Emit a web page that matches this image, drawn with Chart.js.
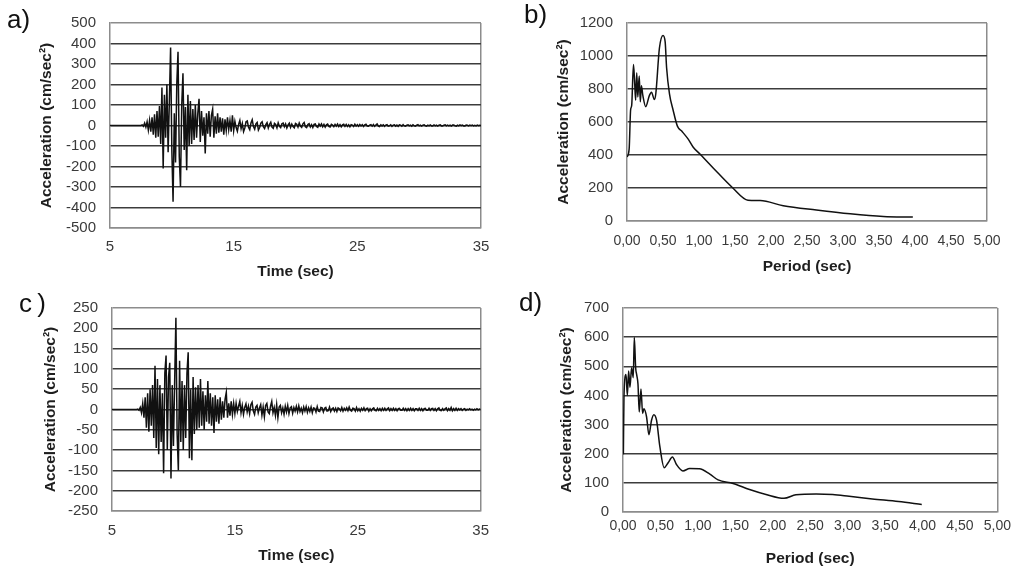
<!DOCTYPE html>
<html>
<head>
<meta charset="utf-8">
<script src="https://cdn.jsdelivr.net/npm/chart.js@4.4.0/dist/chart.umd.min.js"></script>
<style>
    body { margin: 0; background: #fff; }
    #wrap { position: relative; width: 1017px; height: 569px; overflow: hidden; }
    canvas { position: absolute; }
    .tag { position: absolute; font-family: "Liberation Sans", Arial, sans-serif; font-size: 26px; line-height: 26px; color: #111; }
</style>
</head>
<body>
<div id="wrap">
    <canvas id="chartA" width="500" height="285" style="left:0;top:0"></canvas>
    <canvas id="chartB" width="517" height="285" style="left:500px;top:0"></canvas>
    <canvas id="chartC" width="500" height="284" style="left:0;top:285px"></canvas>
    <canvas id="chartD" width="517" height="284" style="left:500px;top:285px"></canvas>
    <div class="tag" style="left:7px;top:6px">a)</div>
    <div class="tag" style="left:524px;top:1px">b)</div>
    <div class="tag" style="left:19px;top:290px">c&#8201;)</div>
    <div class="tag" style="left:519px;top:289px">d)</div>
</div>
<script>
// record a) - strong motion part, sampled every 0.1 s from 7.5 s
const accelAStrong = [
    0, 3, -4, 12, -8, 18, -22, 25, -30, 40,
    -45, 55, -60, 70, -55, 95, -90, 185, -210, 150,
    -60, 200, -130, 120, 380, -120, -372, 60, -180, 200,
    360, -150, -300, 100, 255, -120, 90, -218, 150, -100,
    120, -90, 80, -70, 100, -60, 60, 130, -80, 70,
    -50, 40, -137, 60, -40, 70, -55, 50, 80, -60,
    45, -40, 60, -35, 40, -30, 35, -45, 30, -25,
    40, -20, 25, -30, 50, -25
];
// record a) - coda, every 0.1 s from 15.1 s
const accelATail = [
    20, -10, -28, 5, 25, -15, 10, -30, -12, 18,
    22, -8, -20, 12, 28, -5, -18, 8, 15, -22,
    -10, 12, 18, -6, -15, 4, 14, -12, 6, 16,
    -8, -14, 10, 5, -12, 13, -4, -10, 9, 12,
    -6, 8, -12, 3, 11, -9, 7, -5, -11, 10,
    6, -8, 12, -3, -9, 8, 15, -6, -10, 5,
    9, -7, 4, -10, 6, 8, -5, -9, 7, -3,
    8, -6, 5, -8, 3, 7, -4, -7, 6, 2,
    -6, 5, -3, 7, -5, 4, -6, 3, 6, -4,
    5, -5, 3, -6, 4, 2, -5, 6, -3, 4,
    -4, 5, -2, 4, -5, 3, 6, -3, -4, 2,
    4, -3, 5, -4, 2, 8, -3, -5, 3, -2,
    3, -4, 2, 4, -3, -2, 3, -4, 2, 3,
    -3, 2, -4, 3, 2, -3, 4, -2, -3, 2,
    3, -2, 2, -3, 3, -2, -3, 2, 4, -2,
    2, -3, 2, 3, -2, -3, 2, -2, 3, -2,
    -2, 3, -2, 2, -3, 2, 3, -2, -2, 2,
    3, -2, 2, -2, 2, -3, 2, 2, -2, -3,
    2, -2, 3, -1, 2, -2, -2, 2, 1, -2,
    2, -1, 2, -2, 1, -2, 2, -1, 1, 0
];

// record c) - strong motion part, every 0.1 s from 7.0 s
const accelCStrong = [
    0, 1, -2, 5, -8, 15, -20, 30, -45, 40,
    -55, 50, -40, 60, -70, 108, -95, 75, -110, 60,
    -80, 40, -157, 90, 133, -100, 80, 115, -170, 60,
    -90, 70, 226, -60, -150, 120, -80, 70, -100, 60,
    -70, 90, 141, -120, 50, -125, 80, -60, 55, -50,
    60, -45, 75, -40, 45, -50, 35, -30, 70, -35,
    40, -40, 30, -58, 35, -30, 25, -35, 30, -25,
    20, -20, 25, 42, -20, 15, -15, 20, -12, 15,
    -10
];
// record c) - coda, every 0.1 s from 15.1 s
const accelCTail = [
    15, -5, 8, 20, -8, 10, -12, 5, 14, -6,
    8, -10, 12, 18, -4, -12, 6, 10, -8, 4,
    12, -14, 6, -18, 10, 15, -6, -10, 8, 20,
    -8, 5, -15, 12, -20, 6, 10, -8, 4, -12,
    8, -6, 10, -10, 4, 7, -9, 5, -4, 8,
    -6, 9, -5, 3, -8, 6, -4, 7, -7, 4,
    -5, 6, -8, 4, 3, -6, 7, -4, -5, 5,
    4, -6, 3, 5, -4, -3, 6, -5, 2, 4,
    -4, 3, -5, 4, 2, -3, 5, -4, 3, -2,
    4, -3, 6, -2, -4, 3, 2, -4, 5, -3,
    2, -4, 3, -2, 4, -3, 2, 3, -4, 2,
    -3, 2, 4, -2, -3, 3, -2, 2, -3, 3,
    -2, 3, -2, 2, 4, -3, 2, -2, 3, -2,
    2, -3, 2, 3, -2, -2, 3, -2, 2, -3,
    2, -2, 3, -2, 2, -3, 2, 2, -2, 3,
    -2, 2, -3, 2, 3, -2, -2, 3, -2, 2,
    3, -2, 2, -3, 2, 4, -2, -3, 2, -2,
    2, 4, -3, 2, -2, 5, -3, 2, -2, 3,
    -2, 2, -1, 2, -2, 1, 2, -2, 1, -1,
    2, -1, 1, -2, 1, -1, 2, -1, 1, 0
];

// response spectra
const periodB = [0.00, 0.03, 0.05, 0.065, 0.09, 0.105, 0.12, 0.135, 0.15, 0.17, 0.185, 0.20, 0.22, 0.26, 0.31, 0.34, 0.38, 0.40, 0.45, 0.50, 0.53, 0.55, 0.59, 0.64, 0.70, 0.76, 0.85, 0.92, 1.01, 1.20, 1.47, 1.68, 1.85, 2.17, 2.63, 3.10, 3.56, 3.97];
const spectB = [388, 437, 673, 700, 948, 850, 732, 899, 752, 879, 722, 820, 761, 693, 760, 781, 736, 771, 1047, 1125, 1086, 929, 771, 673, 575, 545, 496, 447, 407, 320, 200, 126, 124, 93, 67, 44, 28, 24];

const periodD = [0.005, 0.013, 0.04, 0.058, 0.075, 0.093, 0.115, 0.137, 0.151, 0.169, 0.182, 0.20, 0.217, 0.24, 0.262, 0.279, 0.315, 0.346, 0.381, 0.412, 0.448, 0.492, 0.55, 0.603, 0.66, 0.714, 0.80, 0.89, 1.02, 1.16, 1.27, 1.47, 1.69, 1.91, 2.15, 2.31, 2.58, 2.80, 3.02, 3.33, 3.68, 3.99];
const spectD = [197, 394, 472, 400, 484, 428, 495, 461, 599, 495, 472, 439, 343, 422, 338, 354, 326, 265, 315, 334, 315, 225, 152, 169, 189, 163, 141, 149, 148, 130, 110, 98, 77, 60, 47, 59, 62, 60, 54, 45, 36, 26];

const FONT = '"Liberation Sans", Arial, sans-serif';
const Y_TITLE = 'Acceleration (cm/sec²)';

function sampled(values, t0, dt) {
    return values.map((v, i) => ({x: +(t0 + i * dt).toFixed(2), y: v}));
}

function pairs(xs, ys) {
    return xs.map((x, i) => ({x, y: ys[i]}));
}

const commaFmt = v => v.toFixed(2).replace('.', ',');
const plainFmt = v => String(v);

function makePanel(id, o) {
    const edge = '#8c8c8c';
    return new Chart(document.getElementById(id), {
        type: 'line',
        data: {
            datasets: [{
                data: o.points,
                borderColor: '#111',
                borderWidth: o.lineWidth,
                pointRadius: 0,
                fill: false,
                tension: o.smooth ? 0.4 : 0,
                cubicInterpolationMode: o.smooth ? 'monotone' : 'default'
            }]
        },
        options: {
            responsive: false,
            animation: false,
            events: [],
            layout: {padding: {top: o.top, right: o.right, bottom: 0, left: 0}},
            plugins: {legend: {display: false}, tooltip: {enabled: false}},
            scales: {
                x: {
                    type: 'linear',
                    min: o.xMin, max: o.xMax,
                    afterFit: s => { s.height = o.xHeight; },
                    ticks: {
                        stepSize: o.xStep,
                        autoSkip: false, maxRotation: 0,
                        padding: o.xTickPad,
                        color: '#3a3a3a',
                        font: {family: FONT, size: o.xFont},
                        callback: o.xFmt
                    },
                    grid: {
                        drawTicks: false,
                        lineWidth: 1.5,
                        color: c => (c.tick && c.tick.value === o.xMax) ? edge : 'rgba(0,0,0,0)'
                    },
                    border: {color: edge, width: 1.5},
                    title: {
                        display: true, text: o.xTitle, color: '#1e1e1e',
                        font: {family: FONT, size: 15.5, weight: 'bold'},
                        padding: {top: 0, bottom: o.xTitlePad}
                    }
                },
                y: {
                    min: o.yMin, max: o.yMax,
                    afterFit: s => { s.width = o.yWidth; },
                    ticks: {
                        stepSize: o.yStep,
                        autoSkip: false,
                        padding: 14,
                        color: '#3a3a3a',
                        font: {family: FONT, size: 15},
                        callback: plainFmt
                    },
                    grid: {
                        drawTicks: false,
                        lineWidth: 1.5,
                        color: c => (c.tick && (c.tick.value === o.yMax || c.tick.value === o.yMin)) ? edge : '#3c3c3c'
                    },
                    border: {color: edge, width: 1.5},
                    title: {
                        display: true, text: Y_TITLE, color: '#1e1e1e',
                        font: {family: FONT, size: 15.5, weight: 'bold'},
                        padding: {top: o.yTitlePad, bottom: 0}
                    }
                }
            }
        }
    });
}

// a) acceleration time history
makePanel('chartA', {
    points: [{x: 5, y: 0}, ...sampled(accelAStrong, 7.5, 0.1), ...sampled(accelATail, 15.1, 0.1)],
    lineWidth: 1.5, smooth: false,
    top: 22, right: 19, yWidth: 110, xHeight: 57,
    xMin: 5, xMax: 35, xStep: 10, xFmt: plainFmt, xFont: 15, xTickPad: 10,
    xTitle: 'Time (sec)', xTitlePad: 3.7,
    yMin: -500, yMax: 500, yStep: 100, yTitlePad: 37.7
});

// b) response spectrum of a)
makePanel('chartB', {
    points: pairs(periodB, spectB),
    lineWidth: 1.5, smooth: true,
    top: 17, right: 30, yWidth: 127, xHeight: 64,
    xMin: 0, xMax: 5, xStep: 0.5, xFmt: commaFmt, xFont: 14, xTickPad: 12,
    xTitle: 'Period (sec)', xTitlePad: 8.7,
    yMin: 0, yMax: 1200, yStep: 200, yTitlePad: 54.7
});

// c) acceleration time history
makePanel('chartC', {
    points: [{x: 5, y: 0}, ...sampled(accelCStrong, 7.0, 0.1), ...sampled(accelCTail, 15.1, 0.1)],
    lineWidth: 1.5, smooth: false,
    top: 22, right: 17, yWidth: 112, xHeight: 58,
    xMin: 5, xMax: 35, xStep: 10, xFmt: plainFmt, xFont: 15, xTickPad: 11,
    xTitle: 'Time (sec)', xTitlePad: 4,
    yMin: -250, yMax: 250, yStep: 50, yTitlePad: 41.4
});

// d) response spectrum of c)
makePanel('chartD', {
    points: pairs(periodD, spectD),
    lineWidth: 1.5, smooth: true,
    top: 19, right: 18, yWidth: 123, xHeight: 57,
    xMin: 0, xMax: 5, xStep: 0.5, xFmt: commaFmt, xFont: 14, xTickPad: 6,
    xTitle: 'Period (sec)', xTitlePad: 1.4,
    yMin: 0, yMax: 700, yStep: 100, yTitlePad: 57.4
});
</script>
</body>
</html>
